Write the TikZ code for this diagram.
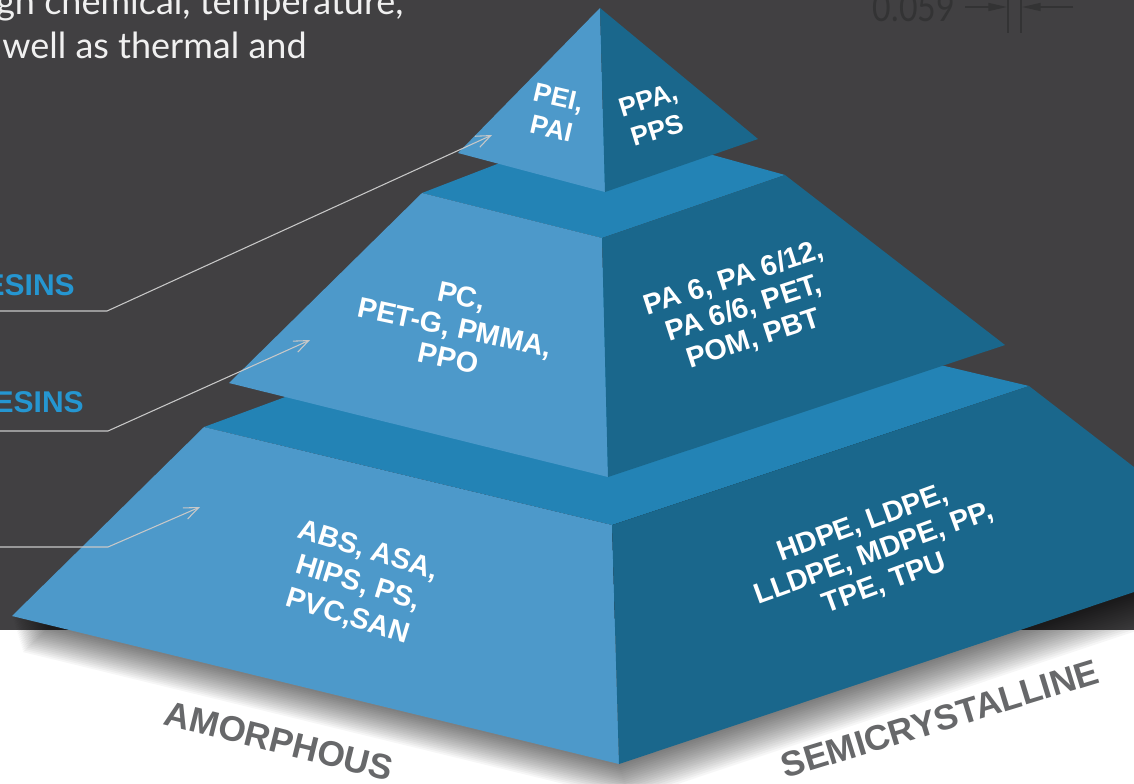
\documentclass[tikz,border=0pt]{standalone}
\usepackage{fontspec}
\setmainfont{Liberation Sans}
\newfontfamily\lato{Lato}
\usetikzlibrary{arrows.meta}
\definecolor{bgdark}{HTML}{414042}
\definecolor{lightblue}{HTML}{4D99CA}
\definecolor{midblue}{HTML}{2383B5}
\definecolor{darkblue}{HTML}{1A678C}
\definecolor{labelblue}{HTML}{2596D1}
\definecolor{labelgray}{HTML}{67686A}
\definecolor{dimgray}{HTML}{333334}
\definecolor{leader}{HTML}{C8C8C8}
\tikzset{
  facetext/.style={text=white, font=\fontsize{21.5}{24}\selectfont\bfseries, align=center, inner sep=0pt},
  toptext/.style={text=white, font=\fontsize{20}{24}\selectfont\bfseries, align=center, inner sep=0pt},
  tierlabel/.style={text=labelblue, font=\fontsize{22.5}{26}\selectfont\bfseries, inner sep=0pt, anchor=base east},
  baselabel/.style={text=labelgray, font=\fontsize{26.5}{30}\selectfont\bfseries, inner sep=0pt},
  leaderline/.style={draw=leader, line width=0.8pt, -{Straight Barb[length=11pt,width=9pt,line width=0.8pt]}},
  dimline/.style={draw=dimgray, line width=1.1pt},
  paratext/.style={text=white!94!black, font=\lato\fontsize{27}{33}\selectfont, inner sep=0pt, anchor=base west}
}
\begin{document}
\begin{tikzpicture}[x=0.75pt,y=-0.75pt]
\useasboundingbox (0,0) rectangle (1134,783);
\begin{scope}
\clip (0,0) rectangle (1134,783);
% background
\fill[bgdark] (0,0) rectangle (1134,630);
\fill[white] (0,630) rectangle (1134,783);
% soft shadow under the pyramid
\foreach \d in {2,4,...,36}{
  \fill[black,opacity=0.034,shift={(0.3*\d,\d)}] (12,616) -- (619,764) -- (1200,570) -- (1200,518) -- (1029,386) -- (204,427) -- cycle;
}
% paragraph text (cut)
\node[paratext] (para1) at (-4,14) {gh chemical, temperature,};
\node[paratext] (para2) at (2,58) {well as thermal and};
% dimension marks
\node[text=dimgray, font=\lato\fontsize{24}{28}\selectfont, inner sep=0pt, anchor=base east, yscale=1.2] (dimtxt) at (955,21) {0.059};
\coordinate (v1t) at (1008,-2); \coordinate (v1b) at (1008,33);
\coordinate (v2t) at (1021,-2); \coordinate (v2b) at (1021,33);
\coordinate (a1s) at (965,7); \coordinate (a1e) at (1007,7);
\coordinate (a2s) at (1073,7); \coordinate (a2e) at (1022,7);
\draw[dimline] (v1t) -- (v1b);
\draw[dimline] (v2t) -- (v2b);
\draw[dimline,-{Triangle[length=14pt,width=6pt]}] (a1s) -- (a1e);
\draw[dimline,-{Triangle[length=14pt,width=6pt]}] (a2s) -- (a2e);
% bottom tier
\fill[midblue] (204,427) -- (594,283) -- (1029,386) -- (612,525) -- cycle;
\fill[lightblue] (204,427) -- (612,525) -- (619,764) -- (12,616) -- cycle;
\fill[darkblue] (612,525) -- (1029,386) -- (1200,518) -- (1200,570) -- (619,764) -- cycle;
% middle tier
\fill[midblue] (422,193) -- (601,124) -- (785,175) -- (602,238) -- cycle;
\fill[lightblue] (422,193) -- (602,238) -- (608,477) -- (229,383) -- cycle;
\fill[darkblue] (602,238) -- (785,175) -- (1005,345) -- (608,477) -- cycle;
% top tier
\fill[lightblue] (600,8) -- (605,192) -- (458,153) -- cycle;
\fill[darkblue] (600,8) -- (758,139) -- (605,192) -- cycle;
% face texts
\node[toptext, rotate=-13] (pei) at (555,113) {PEI,\\PAI};
\node[toptext, rotate=17] (ppa) at (653,115) {PPA,\\PPS};
\node[facetext, rotate=-12] (pc) at (455,327) {PC,\\PET-G, PMMA,\\PPO};
\node[facetext, rotate=18] (pa) at (744,309) {PA 6, PA 6/12,\\PA 6/6, PET,\\POM, PBT};
\node[facetext, rotate=-17, font=\fontsize{21.5}{26}\selectfont\bfseries] (abs) at (358,584) {ABS, ASA,\\HIPS, PS,\\PVC,SAN};
\node[facetext, rotate=20] (hdpe) at (874,554) {HDPE, LDPE,\\LLDPE, MDPE, PP,\\TPE, TPU};
% tier labels and leaders
\node[tierlabel] (lab1) at (75,295) {ESINS};
\node[tierlabel] (lab2) at (84,412) {ESINS};
\coordinate (l1a) at (-2,311); \coordinate (l1b) at (107,311); \coordinate (l1c) at (492,135);
\coordinate (l2a) at (-2,431); \coordinate (l2b) at (108,431); \coordinate (l2c) at (310,340);
\coordinate (l3a) at (-2,547); \coordinate (l3b) at (108,547); \coordinate (l3c) at (200,507);
\draw[leaderline] (l1a) -- (l1b) -- (l1c);
\draw[leaderline] (l2a) -- (l2b) -- (l2c);
\draw[leaderline] (l3a) -- (l3b) -- (l3c);
% base labels
\node[baselabel, rotate=-14] (amor) at (279,741) {AMORPHOUS};
\node[baselabel, rotate=17] (semi) at (940,719) {SEMICRYSTALLINE};
\end{scope}
\end{tikzpicture}
\end{document}
